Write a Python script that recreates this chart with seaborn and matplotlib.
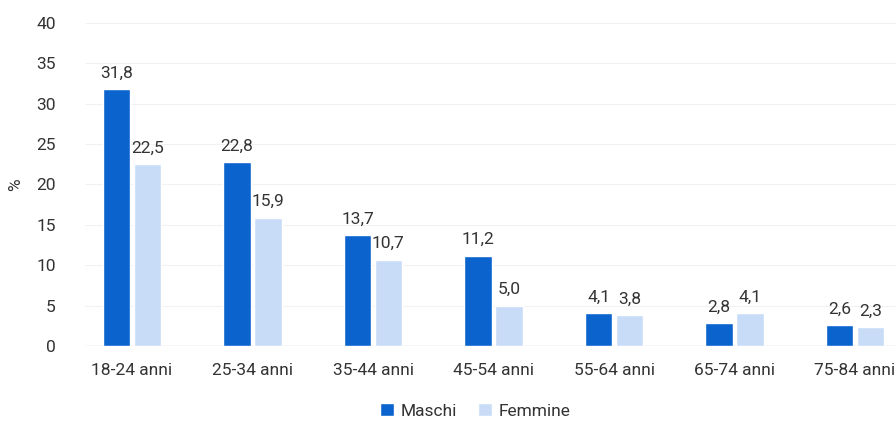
import matplotlib
matplotlib.use("Agg")
import matplotlib.pyplot as plt
import seaborn as sns
import pandas as pd

categories = ["18-24 anni", "25-34 anni", "35-44 anni", "45-54 anni",
              "55-64 anni", "65-74 anni", "75-84 anni"]
maschi = [31.8, 22.8, 13.7, 11.2, 4.1, 2.8, 2.6]
femmine = [22.5, 15.9, 10.7, 5.0, 3.8, 4.1, 2.3]
series = ["Maschi", "Femmine"]
colors = ["#0b63ce", "#c8dcf8"]
y_ticks = [0, 5, 10, 15, 20, 25, 30, 35, 40]

df = pd.DataFrame({
    "cat": categories * 2,
    "val": maschi + femmine,
    "sesso": [series[0]] * len(categories) + [series[1]] * len(categories),
})

sns.set_theme(style="white")
plt.rcParams["font.family"] = ["Roboto", "DejaVu Sans"]
text_color = "#333333"
fs = 12.5

fig = plt.figure(figsize=(8.96, 4.25), dpi=100)
ax = fig.add_axes([85 / 896, 1 - 346 / 425, 1 - 85 / 896, (346 - 23) / 425])

sns.barplot(data=df, x="cat", y="val", hue="sesso", order=categories,
            hue_order=series, palette=colors, width=0.51, gap=0.11,
            saturation=1, ax=ax, legend=True)

for cont in ax.containers:
    ax.bar_label(cont, fmt=lambda v: f"{v:.1f}".replace(".", ","),
                 padding=6, fontsize=fs, color=text_color)

ax.set_ylim(0, 40)
ax.set_yticks(y_ticks)
ax.set_xlim(-0.39, 6.34)
ax.set_ylabel("%", fontsize=fs, color=text_color)
ax.yaxis.set_label_coords(-0.076, 0.5)
ax.set_xlabel("")
ax.tick_params(axis="y", labelsize=fs, labelcolor=text_color, length=0, pad=21)
ax.tick_params(axis="x", labelsize=fs, labelcolor=text_color, length=0, pad=12)
for s in ax.spines.values():
    s.set_visible(False)
ax.grid(axis="y", color="#f2f2f2", linewidth=0.8)
ax.set_axisbelow(True)
ax.axhline(0, color="#d9d9d9", linewidth=1.0, zorder=0.5)

handles, labels = ax.get_legend_handles_labels()
ax.legend(handles, labels, loc="lower center", bbox_to_anchor=(475 / 896, -0.01),
          bbox_transform=fig.transFigure, ncol=2, frameon=False, fontsize=fs,
          handlelength=0.8, handleheight=0.8, handletextpad=0.4,
          columnspacing=1.2, labelcolor=text_color, borderaxespad=0.2)

fig.savefig("out.png", dpi=100)
